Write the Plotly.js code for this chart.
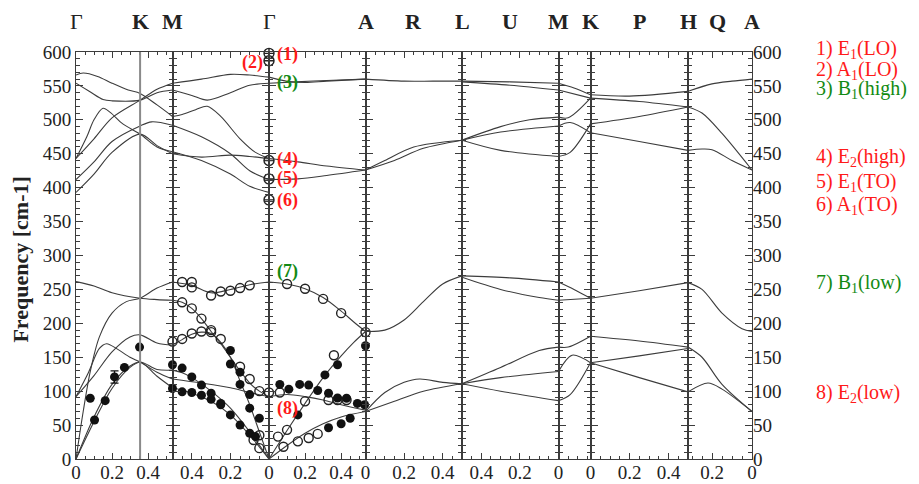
<!DOCTYPE html>
<html><head><meta charset="utf-8">
<script src="https://cdn.plot.ly/plotly-3.0.1.min.js"></script>
<style>html,body{margin:0;padding:0;background:#fff}</style>
</head><body><div id="chart" style="width:919px;height:484px"></div>
<script>
// ---------------- DATA ----------------
const segNames = ['Γ-K-M','M-Γ','Γ-A','A-L','L-M','M-K','K-H','H-A'];
const segRanges = [[0,0.536],[0.5,0],[0,0.535],[0,0.5],[0.5,0],[0,0.165],[0,0.5],[0.32,0]];
const segTickVals = [[0,0.2,0.4],[0.4,0.2,0],[0.2,0.4],[0,0.2,0.4],[0.4,0.2,0],[],[0,0.2,0.4],[0.2,0]];
const segTickText = [['0','0.2','0.4'],['0.4','0.2','0'],['0.2','0.4'],['0','0.2','0.4'],['0.4','0.2','0'],[],['0','0.2','0.4'],['0.2','0']];
const K_on_first = 0.356;
const symSeg = [0,0,0,1,2,3,3,4,4,5,6,6,7,7];
const symPos = [0,0.356,0.536,0,0.535,0.25,0.5,0.25,0,0.165,0.25,0.5,0.175,0];
const symText = ['Γ','K','M','Γ','A','R','L','U','M','K','P','H','Q','A'];

const calc_GKM = [
 [[0,566],[0.04,569],[0.12,564],[0.2,554],[0.29,544],[0.356,539],[0.45,522],[0.536,505]],
 [[0,554],[0.08,541],[0.15,530],[0.2,528],[0.356,529],[0.45,540],[0.536,544]],
 [[0,443],[0.06,475],[0.1,500],[0.15,517],[0.19,511],[0.26,494],[0.356,479],[0.45,460],[0.536,453]],
 [[0,443],[0.1,472],[0.2,503],[0.356,529],[0.45,545],[0.536,554]],
 [[0,412],[0.1,438],[0.2,468],[0.356,491],[0.42,497],[0.536,492]],
 [[0,393],[0.1,420],[0.2,452],[0.356,479],[0.45,462],[0.536,450]],
 [[0,261.5],[0.1,255],[0.2,245],[0.356,237],[0.45,235],[0.536,234]],
 [[0,0],[0.04,70],[0.08,130],[0.13,180],[0.2,215],[0.28,232],[0.356,237],[0.45,252],[0.536,261]],
 [[0,92],[0.07,128],[0.13,163],[0.17,170],[0.23,162],[0.3,150],[0.356,143],[0.45,128],[0.536,118]],
 [[0,92],[0.1,123],[0.2,158],[0.3,180],[0.356,183],[0.45,171],[0.536,168]],
 [[0,0],[0.1,62],[0.2,110],[0.3,137],[0.356,143],[0.45,122],[0.536,105]],
 [[0,0],[0.1,55],[0.2,104],[0.3,135],[0.356,143],[0.45,132],[0.536,131]]
];
const calc_MG = [
 [[0.5,505],[0.45,508],[0.38,515],[0.32,520],[0.25,505],[0.15,472],[0.07,452],[0,443]],
 [[0.5,544],[0.4,536],[0.32,529],[0.2,540],[0.1,551],[0,554]],
 [[0.5,554],[0.35,560],[0.2,567],[0.1,566],[0,563]],
 [[0.5,492],[0.35,475],[0.2,450],[0.1,425],[0,412]],
 [[0.5,453],[0.35,440],[0.2,420],[0.1,402],[0,393]],
 [[0.5,450],[0.35,445],[0.2,448],[0.1,446],[0,443]],
 [[0.5,261],[0.4,256],[0.3,245],[0.2,250],[0.1,257],[0,261]],
 [[0.5,234],[0.45,231],[0.4,222],[0.35,207],[0.3,188],[0.25,170],[0.2,150],[0.15,130],[0.1,112],[0.05,100],[0,92]],
 [[0.5,168],[0.45,176],[0.4,184],[0.35,187],[0.3,185],[0.25,172],[0.2,150],[0.15,115],[0.1,80],[0.05,40],[0,0]],
 [[0.5,118],[0.35,112],[0.2,105],[0.1,98],[0,92]],
 [[0.5,131],[0.45,127],[0.4,120],[0.3,100],[0.2,75],[0.1,40],[0,0]],
 [[0.5,105],[0.4,97],[0.3,85],[0.2,65],[0.1,35],[0,0]]
];
const calc_GA = [
 [[0,563],[0.1,557],[0.2,555],[0.32,557],[0.535,560]],
 [[0,554],[0.15,556],[0.32,558],[0.535,560]],
 [[0,443],[0.16,438],[0.32,432],[0.535,426]],
 [[0,412],[0.16,413],[0.32,418],[0.535,426]],
 [[0,261],[0.1,258],[0.2,251],[0.3,238],[0.4,218],[0.47,202],[0.535,188]],
 [[0,0],[0.1,42],[0.2,82],[0.3,120],[0.4,152],[0.47,172],[0.535,188]],
 [[0,92],[0.1,95],[0.2,92],[0.3,87],[0.4,80],[0.535,72]],
 [[0,0],[0.1,20],[0.2,38],[0.3,52],[0.4,62],[0.535,70]]
];
const calc_AL = [
 [[0,560],[0.2,557],[0.35,557],[0.5,557]],
 [[0,426],[0.15,440],[0.3,458],[0.5,470]],
 [[0,426],[0.1,440],[0.25,460],[0.5,470]],
 [[0,188],[0.1,190],[0.2,205],[0.3,232],[0.4,258],[0.5,270]],
 [[0,70],[0.1,98],[0.2,113],[0.28,118],[0.4,113],[0.5,111]],
 [[0,70],[0.15,85],[0.3,100],[0.5,111]]
];
const calc_LM = [
 [[0.5,557],[0.25,556],[0,554]],
 [[0.5,556],[0.25,551],[0,544]],
 [[0.5,470],[0.3,490],[0.15,500],[0,504]],
 [[0.5,470],[0.3,482],[0,491]],
 [[0.5,470],[0.3,455],[0,446]],
 [[0.5,270],[0.25,267],[0,261]],
 [[0.5,268],[0.3,250],[0.1,238],[0,234]],
 [[0.5,111],[0.3,135],[0.1,160],[0,165]],
 [[0.5,111],[0.3,120],[0,129]],
 [[0.5,111],[0.3,100],[0,86]]
];
const calc_MK = [
 [[0,554],[0.08,547],[0.165,537]],
 [[0,544],[0.165,532]],
 [[0,504],[0.05,503],[0.165,532]],
 [[0,491],[0.06,496],[0.165,481]],
 [[0,446],[0.06,452],[0.165,494]],
 [[0,261],[0.08,250],[0.165,237]],
 [[0,234],[0.165,237]],
 [[0,165],[0.05,165],[0.165,181]],
 [[0,129],[0.07,153],[0.165,142]],
 [[0,86],[0.06,95],[0.165,142]]
];
const calc_KH = [
 [[0,537],[0.2,535],[0.5,542]],
 [[0,532],[0.25,527],[0.5,519]],
 [[0,494],[0.25,505],[0.5,519]],
 [[0,481],[0.25,468],[0.5,455]],
 [[0,237],[0.25,248],[0.5,260]],
 [[0,181],[0.25,174],[0.5,165]],
 [[0,142],[0.25,152],[0.5,163]],
 [[0,142],[0.25,120],[0.5,99]]
];
const calc_HA = [
 [[0.32,542],[0.2,553],[0.1,557],[0,560]],
 [[0.32,519],[0.25,510],[0.15,480],[0,426]],
 [[0.32,455],[0.25,457],[0.2,456],[0.1,440],[0,426]],
 [[0.32,260],[0.25,250],[0.15,215],[0.05,192],[0,188]],
 [[0.32,165],[0.25,150],[0.15,110],[0,70]],
 [[0.32,99],[0.22,112],[0.15,103],[0,70]]
];
const calcBySeg = [calc_GKM, calc_MG, calc_GA, calc_AL, calc_LM, calc_MK, calc_KH, calc_HA];

const expFilled_GKM = [[0.079,89.5],[0.103,57.5],[0.162,86],[0.214,121],[0.269,135],[0.353,165]];
const expFilledErr_GKM = [0,0,0,9,0,0];
const expOpen_MG = [[0.45,261],[0.4,261],[0.4,253],[0.3,241],[0.25,247],[0.2,248],[0.15,252],[0.1,256],
 [0.45,231],[0.4,222],[0.35,207],[0.3,190],
 [0.5,173],[0.45,177],[0.4,185],[0.35,188],[0.3,187],[0.25,177],
 [0.15,136],[0.1,118],[0.05,100],[0.05,35],[0.05,16],[0.08,28]];
const expFilled_MG = [[0.5,139],[0.45,134],[0.4,121],[0.35,109],[0.3,97],[0.25,82],[0.2,65],[0.15,50],[0.1,38],
 [0.5,104],[0.45,99],[0.4,98],[0.35,94],[0.3,88],[0.25,80],
 [0.2,160],[0.2,140],[0.15,128],[0.15,110],[0.1,95],[0.1,75],[0.05,60],[0.07,33]];
const expOpen_GA = [[0.1,258],[0.2,251],[0.3,236],[0.4,215],[0.535,187],[0.1,43],[0.2,85],[0.36,153],
 [0.05,33],[0.08,18],[0.16,26],[0.22,31],[0.27,37],[0,98],[0.06,98],[0.33,87],[0.38,87],[0.43,87]];
const expFilled_GA = [[0.535,167],[0.16,65],[0.31,124],[0.38,139],[0.06,110],[0.11,103],[0.17,110],[0.22,109],
 [0.27,101],[0.33,97],[0.38,90],[0.43,89.5],[0.49,82],[0.53,80],[0.33,46],[0.4,52],[0.45,60]];
const ramanGamma = [598, 587, 440, 413, 382];
const modeTag = ['(1)','(2)','(3)','(4)','(5)','(6)','(7)','(8)'];
const modeTagFreq = [597, 584, 555, 442, 413, 381, 276, 75];
const modeTagColor = ['#ff1a1a','#ff1a1a','#138a13','#ff1a1a','#ff1a1a','#ff1a1a','#138a13','#ff1a1a'];
const modeName = ['1) E<sub>1</sub>(LO)','2) A<sub>1</sub>(LO)','3) B<sub>1</sub>(high)','4) E<sub>2</sub>(high)',
 '5) E<sub>1</sub>(TO)','6) A<sub>1</sub>(TO)','7) B<sub>1</sub>(low)','8) E<sub>2</sub>(low)'];
const modeNameFreq = [604, 573, 544, 444, 408, 374, 259, 97];

// ---------------- LAYOUT / PLOT ----------------
const W = 919, H = 484, L = 76, R = 752, T = 52, B = 459;
const segPx = [[76,172.5],[172.5,269],[269,365.5],[365.5,462],[462,558.5],[558.5,590.5],[590.5,688],[688,752]];
const FONT = 'Liberation Serif, Times New Roman, serif';
const LINEC = '#3c3c3c';
const ax = i => (i === 0 ? '' : String(i + 1));

const traces = [];
calcBySeg.forEach((branches, i) => {
  branches.forEach(b => {
    traces.push({type:'scatter', mode:'lines', x:b.map(p=>p[0]), y:b.map(p=>p[1]),
      xaxis:'x'+ax(i), yaxis:'y'+ax(i), line:{color:LINEC, width:1.1, shape:'spline', smoothing:0.9},
      hoverinfo:'skip', showlegend:false});
  });
});
function pts(arr, seg, filled, err) {
  const t = {type:'scatter', mode:'markers', x:arr.map(p=>p[0]), y:arr.map(p=>p[1]), cliponaxis:false,
    xaxis:'x'+ax(seg), yaxis:'y'+ax(seg), showlegend:false, hoverinfo:'skip',
    marker: filled ? {symbol:'circle', size:9, color:'#111', line:{width:0}}
                   : {symbol:'circle-open', size:9, color:'#222', line:{width:1.4}}};
  if (err) t.error_y = {type:'data', array:err, visible:true, color:'#111', thickness:1.3, width:4};
  traces.push(t);
}
pts(expFilled_GKM, 0, true, expFilledErr_GKM);
pts(expOpen_MG, 1, false);
pts(expFilled_MG, 1, true);
pts(expOpen_GA, 2, false);
pts(expFilled_GA, 2, true);
traces.push({type:'scatter', mode:'markers', x:ramanGamma.map(()=>0), y:ramanGamma, xaxis:'x2', yaxis:'y2', cliponaxis:false,
  marker:{symbol:'circle-cross-open', size:10, color:'#222', line:{width:1.4}}, showlegend:false, hoverinfo:'skip'});
traces.push({type:'scatter', mode:'markers', x:[0.1], y:[-100], xaxis:'x8', yaxis:'y9', marker:{opacity:0}, showlegend:false, hoverinfo:'skip'});

const layout = {width:W, height:H, margin:{l:L, r:W-R, t:T, b:H-B}, paper_bgcolor:'#fff', plot_bgcolor:'rgba(0,0,0,0)',
  font:{family:FONT, size:19, color:'#222'}, showlegend:false, annotations:[], shapes:[]};
const frac = px => (px - L) / (R - L);
segPx.forEach((p, i) => {
  layout['xaxis'+ax(i)] = {domain:[frac(p[0]), frac(p[1])], range:segRanges[i], anchor:'y'+ax(i),
    showline:true, linecolor:LINEC, linewidth:1, mirror:'ticks', ticks:'inside', ticklen:6, tickcolor:LINEC, tickwidth:1,
    tickmode:'array', tickvals:segTickVals[i], ticktext:segTickText[i], showgrid:false, zeroline:false,
    ticklabelstandoff:-4, tickfont:{family:FONT, size:19, color:'#222'},
    minor:{ticks:'inside', dtick:0.05, tick0:0, ticklen:3, tickcolor:LINEC, showgrid:false}};
  layout['yaxis'+ax(i)] = {domain:[0,1], range:[0,600], anchor:'x'+ax(i), showline:true, linecolor:LINEC, linewidth:1,
    mirror:'ticks', ticks:'inside', ticklen:7, tickcolor:LINEC, dtick:50, tick0:0, showgrid:false, zeroline:false,
    showticklabels:i===0, tickfont:{family:FONT, size:19, color:'#222'},
    minor:{ticks:'inside', dtick:10, ticklen:4, tickcolor:LINEC, showgrid:false}};
});
layout.yaxis9 = {overlaying:'y8', side:'right', anchor:'x8', range:[0,600], dtick:50, tick0:0, ticks:'', showline:false,
  showgrid:false, zeroline:false, tickfont:{family:FONT, size:19, color:'#222'}};
layout.shapes.push({type:'line', xref:'x', yref:'y', x0:K_on_first, x1:K_on_first, y0:0, y1:600, line:{color:'#8a8a8a', width:2}});
symText.forEach((s, k) => {
  layout.annotations.push({xref:'x'+ax(symSeg[k]), x:symPos[k], yref:'paper', y:1+30/(B-T), yanchor:'middle', xanchor:'center',
    text: s === 'Γ' ? s : '<b>'+s+'</b>', showarrow:false, font:{family:FONT, size:22, color:'#222'}});
});
modeTag.forEach((t, k) => {
  const seg = k === 1 ? 1 : 2;
  const xq = k === 1 ? 0.088 : 0.1;
  layout.annotations.push({xref:'x'+ax(seg), x:xq, yref:'paper', y:modeTagFreq[k]/600, xanchor:'center', yanchor:'middle',
    text:'<b>'+t+'</b>', showarrow:false, font:{family:FONT, size:18, color:modeTagColor[k]}});
});
modeName.forEach((t, k) => {
  layout.annotations.push({xref:'paper', x:frac(814), yref:'paper', y:modeNameFreq[k]/600, xanchor:'left', yanchor:'middle',
    text:t, showarrow:false, font:{family:FONT, size:20, color:modeTagColor[k]}});
});
layout.annotations.push({xref:'paper', x:frac(21), yref:'paper', y:0.49, xanchor:'center', yanchor:'middle', textangle:-90,
  text:'<b>Frequency [cm-1]</b>', showarrow:false, font:{family:FONT, size:22, color:'#222'}});

Plotly.newPlot('chart', traces, layout, {staticPlot:true, displayModeBar:false});
</script></body></html>
